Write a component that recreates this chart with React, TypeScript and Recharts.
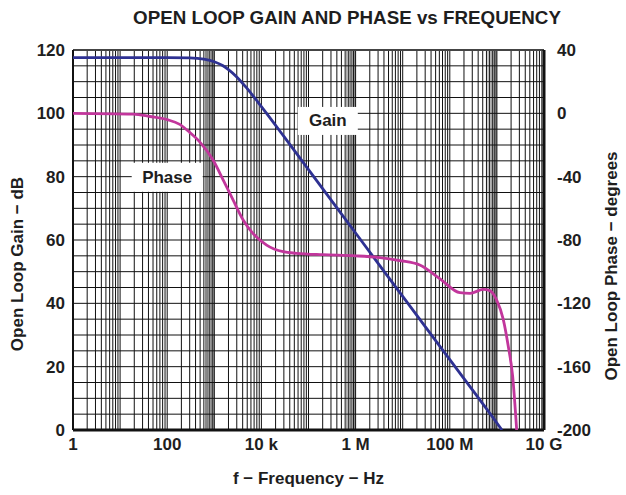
import { LineChart, Line, XAxis, YAxis, ReferenceLine, ReferenceDot } from "recharts";

const freqTicks = [1, 100, 1e4, 1e6, 1e8, 1e10];
const freqTickLabels = ["1", "100", "10 k", "1 M", "100 M", "10 G"];
const gainTicks = [0, 20, 40, 60, 80, 100, 120];
const phaseTicks = [-200, -160, -120, -80, -40, 0, 40];

// open loop gain, dB
const gainFreq = [1, 100, 300, 600, 1000, 1500, 2000, 3000, 5000, 1e4, 3e4, 1e5, 1e6, 1e7, 1e8, 1e9, 1.28e9];
const gainDb = [117.6, 117.6, 117.5, 117.1, 116.3, 115.1, 113.8, 111.5, 107.8, 102.1, 92.7, 82.2, 62.2, 42.2, 22.2, 2.2, 0];

// open loop phase, degrees
const phaseFreq = [
  1, 19, 43, 100, 185, 300, 490, 940, 1540, 2500, 4100, 6600, 12900, 29000, 56000, 2e5, 1e6, 3e6, 8.7e6,
  2.3e7, 6.2e7, 1.64e8, 2.7e8, 5.1e8, 7.1e8, 9.9e8, 1.36e9, 1.74e9, 2.16e9, 2.63e9,
];
const phaseDeg = [
  0, -0.5, -2, -4, -7, -12, -18, -29.5, -42, -54.7, -67.4, -75.8, -83.2, -87.4, -88.4, -89.3, -90, -91, -93,
  -95.8, -104.5, -113.3, -113.7, -111.2, -112, -118, -130, -147, -166, -200,
];

// log graph paper
const decades = [1, 10, 100, 1e3, 1e4, 1e5, 1e6, 1e7, 1e8, 1e9];
const minorSteps = [1, 2, 3, 4, 5, 6, 7, 8, 9];
const fineDecades = [100, 1e5, 1e8];
const fineSteps = [6.5, 7.5, 8.5, 9.25, 9.5, 9.75];
const gridDb = [5, 10, 15, 20, 25, 30, 35, 40, 45, 50, 55, 60, 65, 70, 75, 80, 85, 90, 95, 100, 105, 110, 115];

const gainData = gainFreq.map((f, i) => ({ f, gain: gainDb[i] }));
const phaseData = phaseFreq.map((f, i) => ({ f, phase: phaseDeg[i] }));
const gridX = decades.flatMap((d) => minorSteps.map((m) => m * d)).filter((v) => v > 1);
const fineX = fineDecades.flatMap((d) => fineSteps.map((m) => m * d));

const FONT = "'Liberation Sans', Arial, Helvetica, sans-serif";
const tickStyle = { fill: "#1e1e1e", fontSize: 17, fontWeight: 700 };

function AxisTitle({ cx, cy, text }: { cx: number; cy: number; text: string }) {
  return (
    <text
      x={cx}
      y={cy}
      transform={`rotate(-90, ${cx}, ${cy})`}
      textAnchor="middle"
      dominantBaseline="central"
      fontSize={17}
      fontWeight={700}
      fill="#1e1e1e"
    >
      {text}
    </text>
  );
}

function boxLabel(text: string, w: number, h: number) {
  return (p: any) => (
    <g>
      <rect x={p.cx - w / 2} y={p.cy - h / 2} width={w} height={h} fill="#fff" />
      <text x={p.cx} y={p.cy} textAnchor="middle" dominantBaseline="central" fontSize={17} fontWeight={700} fill="#1e1e1e">
        {text}
      </text>
    </g>
  );
}

export default function App() {
  return (
    <div style={{ position: "absolute", left: 0, top: 0, width: 626, height: 495, fontFamily: FONT, background: "#fff" }}>
      <div
        style={{
          position: "absolute",
          left: 347,
          top: 8,
          transform: "translateX(-50%)",
          whiteSpace: "nowrap",
          fontSize: 18.8,
          lineHeight: "20px",
          fontWeight: 700,
          color: "#1e1e1e",
        }}
      >
        OPEN LOOP GAIN AND PHASE vs FREQUENCY
      </div>
      <LineChart width={626} height={495} margin={{ top: 50, right: 0, bottom: 45, left: 0 }}>
        <XAxis
          dataKey="f"
          type="number"
          scale="log"
          domain={[1, 1e10]}
          ticks={freqTicks}
          tickFormatter={(v) => freqTickLabels[freqTicks.indexOf(v)]}
          tick={tickStyle}
          tickLine={false}
          axisLine={false}
          height={20}
          allowDataOverflow
          label={{
            content: (p: any) => (
              <text
                x={p.viewBox.x + p.viewBox.width / 2}
                y={p.viewBox.y + 48}
                textAnchor="middle"
                dominantBaseline="central"
                fontSize={17}
                fontWeight={700}
                fill="#1e1e1e"
              >
                f − Frequency − Hz
              </text>
            ),
          }}
        />
        <YAxis
          yAxisId="gain"
          orientation="left"
          domain={[0, 120]}
          ticks={gainTicks}
          tick={tickStyle}
          tickLine={false}
          axisLine={false}
          width={73}
          allowDataOverflow
          label={{
            content: (p: any) => (
              <AxisTitle cx={p.viewBox.x + 17} cy={p.viewBox.y + p.viewBox.height / 2 + 24} text="Open Loop Gain − dB" />
            ),
          }}
        />
        <YAxis
          yAxisId="phase"
          orientation="right"
          domain={[-200, 40]}
          ticks={phaseTicks}
          tick={tickStyle}
          tickLine={false}
          tickSize={6}
          tickMargin={7}
          axisLine={false}
          width={82}
          allowDataOverflow
          label={{
            content: (p: any) => (
              <AxisTitle cx={p.viewBox.x + 67} cy={p.viewBox.y + p.viewBox.height / 2 + 26} text="Open Loop Phase − degrees" />
            ),
          }}
        />

        {fineX.map((v) => (
          <ReferenceLine key={`fx${v}`} x={v} yAxisId="gain" stroke="#8a8a8a" strokeWidth={1} />
        ))}
        {gridX.map((v) => (
          <ReferenceLine key={`gx${v}`} x={v} yAxisId="gain" stroke="#111" strokeWidth={1} />
        ))}
        {gridDb.map((v) => (
          <ReferenceLine key={`gy${v}`} y={v} yAxisId="gain" stroke="#111" strokeWidth={1} />
        ))}
        <ReferenceLine y={120} yAxisId="gain" stroke="#444" strokeWidth={2} />
        <ReferenceLine x={1} yAxisId="gain" stroke="#111" strokeWidth={2} />
        <ReferenceLine y={0} yAxisId="gain" stroke="#111" strokeWidth={3} />
        <ReferenceLine x={1e10} yAxisId="gain" stroke="#111" strokeWidth={3} />

        <ReferenceDot x={2.57e5} y={97.6} yAxisId="gain" r={1} shape={boxLabel("Gain", 60, 28)} />
        <ReferenceDot x={100} y={79.8} yAxisId="gain" r={1} shape={boxLabel("Phase", 71, 29)} />

        <Line
          data={gainData}
          dataKey="gain"
          yAxisId="gain"
          type="monotone"
          stroke="#2e3192"
          strokeWidth={2.8}
          dot={false}
          isAnimationActive={false}
        />
        <Line
          data={phaseData}
          dataKey="phase"
          yAxisId="phase"
          type="monotone"
          stroke="#c2369c"
          strokeWidth={2.8}
          dot={false}
          isAnimationActive={false}
        />
      </LineChart>
    </div>
  );
}
